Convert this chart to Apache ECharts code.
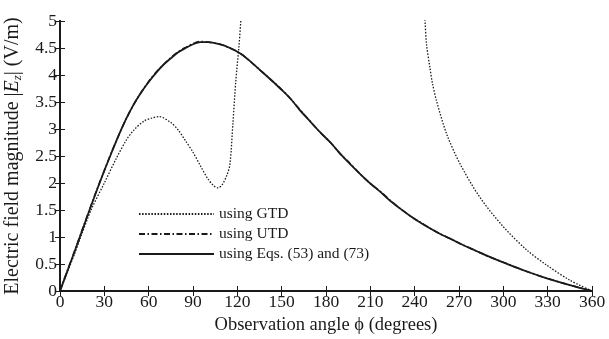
<!DOCTYPE html>
<html>
<head>
<meta charset="utf-8">
<script src="https://cdn.jsdelivr.net/npm/echarts@6/dist/echarts.min.js"></script>
<style>
  html, body { margin: 0; padding: 0; background: #fff; }
  #chart { width: 609px; height: 339px; }
</style>
</head>
<body>
<div id="chart"></div>
<script>
  // angle in degrees, |Ez| in V/m
  const gtdAngle = [0, 5, 10, 14, 21, 30, 38, 45, 50, 57, 62, 67, 75, 80, 85, 90, 95, 100, 104, 107, 110, 113, 115, 117, 119, 121, 122.5, 124,
    185,
    245.5, 247, 248, 250.3, 252, 254.8, 261.6, 270.6, 284, 300, 315.8, 329.3, 345, 360];
  const gtdValue = [0, 0.35, 0.7, 1.0, 1.5, 2.0, 2.45, 2.8, 2.98, 3.15, 3.2, 3.23, 3.12, 2.98, 2.78, 2.57, 2.32, 2.08, 1.95, 1.91, 1.98, 2.15, 2.35, 3.1, 3.9, 4.5, 5.05, 5.6,
    null,
    5.6, 5.0, 4.57, 4.14, 3.85, 3.52, 2.91, 2.36, 1.74, 1.19, 0.76, 0.48, 0.2, 0];

  const utdAngle = [0, 5, 10, 15, 20, 25, 30, 35, 40, 45, 50, 55, 60, 65, 70, 75, 80, 85, 90, 95, 100, 108, 115, 122, 128, 135, 142, 149, 156, 162, 169, 176, 183, 190, 196, 203, 210, 217, 223, 230, 237, 244, 250, 257, 264, 272, 281, 290, 300, 315, 330, 345, 360];
  const utdValue = [0, 0.38, 0.75, 1.13, 1.51, 1.88, 2.23, 2.58, 2.9, 3.2, 3.46, 3.68, 3.88, 4.05, 4.19, 4.32, 4.43, 4.51, 4.58, 4.62, 4.61, 4.57, 4.5, 4.4, 4.27, 4.1, 3.93, 3.76, 3.56, 3.37, 3.15, 2.94, 2.75, 2.53, 2.37, 2.17, 1.99, 1.84, 1.69, 1.53, 1.39, 1.27, 1.17, 1.06, 0.97, 0.86, 0.75, 0.64, 0.53, 0.37, 0.23, 0.11, 0];

  const eqsAngle = [0, 5, 10, 15, 20, 25, 30, 35, 40, 45, 50, 55, 60, 65, 70, 75, 80, 85, 90, 95, 100, 108, 115, 122, 128, 135, 142, 149, 156, 162, 169, 176, 183, 190, 196, 203, 210, 217, 223, 230, 237, 244, 250, 257, 264, 272, 281, 290, 300, 315, 330, 345, 360];
  const eqsValue = [0, 0.37, 0.74, 1.12, 1.5, 1.87, 2.23, 2.57, 2.9, 3.2, 3.46, 3.68, 3.87, 4.04, 4.19, 4.31, 4.42, 4.5, 4.57, 4.61, 4.61, 4.57, 4.5, 4.4, 4.27, 4.1, 3.93, 3.75, 3.56, 3.36, 3.15, 2.94, 2.75, 2.53, 2.36, 2.17, 1.99, 1.83, 1.68, 1.53, 1.39, 1.265, 1.165, 1.06, 0.97, 0.86, 0.75, 0.64, 0.53, 0.37, 0.23, 0.11, 0];

  const seriesNames = ['using GTD', 'using UTD', 'using Eqs. (53) and (73)'];

  const pairs = (xs, ys) => xs.map((x, i) => [x, ys[i]]);

  const serif = '"Liberation Serif", "DejaVu Serif", serif';
  const ink = '#1a1a1a';

  const chart = echarts.init(document.getElementById('chart'));

  const sideAxis = {
    axisLine: { show: true, lineStyle: { color: ink, width: 2 } },
    axisTick: { show: true, inside: true, length: 5, lineStyle: { color: ink, width: 1 } },
    splitLine: { show: false },
  };

  const curve = { type: 'line', symbol: 'none', clip: true, smooth: 0.3 };

  chart.setOption({
    animation: false,
    grid: { left: 60, right: 17, top: 21, bottom: 48, outerBoundsMode: 'none' },
    legend: {
      orient: 'vertical',
      left: 138,
      top: 206,
      padding: 0,
      itemWidth: 75,
      itemHeight: 14,
      itemGap: 4,
      data: seriesNames,
      itemStyle: { opacity: 0 },
      textStyle: { fontFamily: serif, fontSize: 15.5, color: ink },
    },
    xAxis: [
      Object.assign({
        type: 'value', min: 0, max: 360, interval: 30, position: 'bottom',
        name: 'Observation angle \u03d5 (degrees)',
        nameLocation: 'middle', nameGap: 12,
        nameTextStyle: { fontFamily: serif, fontSize: 18.5, color: ink, verticalAlign: 'top' },
        axisLabel: { fontFamily: serif, fontSize: 17.5, color: ink, margin: 2 },
      }, sideAxis),
      Object.assign({
        type: 'value', min: 0, max: 360, interval: 30, position: 'top',
        axisLabel: { show: false },
      }, sideAxis),
    ],
    yAxis: [
      Object.assign({
        type: 'value', min: 0, max: 5, interval: 0.5, position: 'left',
        name: 'Electric field magnitude |{e|E}{s|z}| (V/m)',
        nameLocation: 'middle', nameGap: 30,
        nameTextStyle: {
          fontFamily: serif, fontSize: 20, color: ink,
          rich: {
            e: { fontFamily: serif, fontSize: 20, fontStyle: 'italic', color: ink },
            s: { fontFamily: serif, fontSize: 13, fontStyle: 'italic', color: ink, padding: [9, 0, 0, 0] },
          },
        },
        axisLabel: { fontFamily: serif, fontSize: 17.5, color: ink, margin: 3 },
      }, sideAxis),
      Object.assign({
        type: 'value', min: 0, max: 5, interval: 0.5, position: 'right',
        axisLabel: { show: false },
      }, sideAxis),
    ],
    series: [
      Object.assign({
        name: seriesNames[0],
        data: pairs(gtdAngle, gtdValue),
        lineStyle: { color: ink, width: 1.3, type: [1.5, 1.6] },
        itemStyle: { color: ink },
      }, curve),
      Object.assign({
        name: seriesNames[1],
        data: pairs(utdAngle, utdValue),
        lineStyle: { color: ink, width: 1.6, type: [6, 2.5, 1.5, 2.5] },
        itemStyle: { color: ink },
      }, curve),
      Object.assign({
        name: seriesNames[2],
        data: pairs(eqsAngle, eqsValue),
        lineStyle: { color: ink, width: 1.8 },
        itemStyle: { color: ink },
      }, curve),
    ],
  });
</script>
</body>
</html>
